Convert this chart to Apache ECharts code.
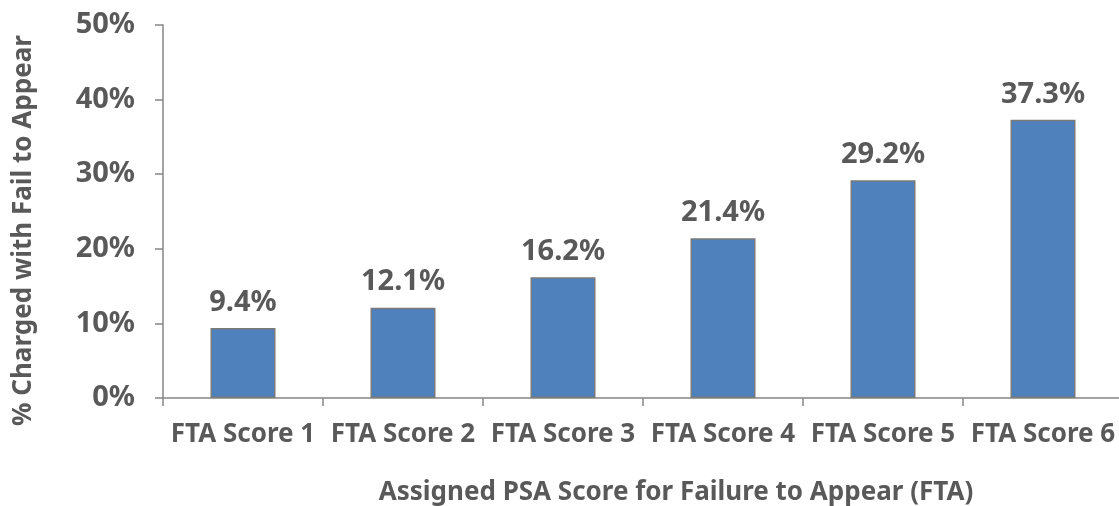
<!DOCTYPE html>
<html>
<head>
<meta charset="utf-8">
<script src="https://cdn.jsdelivr.net/npm/echarts@6/dist/echarts.min.js"></script>
<style>
html,body{margin:0;padding:0;background:#fff;}
#chart{width:1119px;height:506px;}
</style>
</head>
<body>
<div id="chart"></div>
<script>
const categories = ["FTA Score 1","FTA Score 2","FTA Score 3","FTA Score 4","FTA Score 5","FTA Score 6"];
const values = [9.4, 12.1, 16.2, 21.4, 29.2, 37.3];
const yTicks = [0, 10, 20, 30, 40, 50];
const xTitle = "Assigned PSA Score for Failure to Appear (FTA)";
const yTitle = "% Charged with Fail to Appear";

const FONT = "'Noto Sans', sans-serif";
const TXT = "#595959";
const AX = "#868686";

const chart = echarts.init(document.getElementById('chart'), null, {renderer:'canvas'});
chart.setOption({
  animation:false,
  backgroundColor:'#ffffff',
  grid:{left:163, top:25, bottom:108, right:-4, containLabel:false, outerBoundsMode:'none'},
  xAxis:{
    type:'category',
    data:categories,
    name:xTitle,
    nameLocation:'middle',
    nameGap:82,
    nameTextStyle:{color:TXT, fontFamily:FONT, fontWeight:'bold', fontSize:26, padding:[0,0,0,66]},
    axisLine:{show:true, lineStyle:{color:AX, width:1.5}},
    axisTick:{show:true, length:8, lineStyle:{color:AX, width:1.5}, alignWithLabel:false},
    axisLabel:{color:TXT, fontFamily:FONT, fontWeight:'bold', fontSize:26, margin:24, interval:0}
  },
  yAxis:{
    type:'value',
    min:yTicks[0], max:yTicks[yTicks.length-1], interval:10,
    name:yTitle,
    nameLocation:'middle',
    nameGap:126,
    nameRotate:90,
    nameTextStyle:{color:TXT, fontFamily:FONT, fontWeight:'bold', fontSize:26, padding:[0,0,0,-38]},
    axisLine:{show:true, lineStyle:{color:AX, width:1.5}},
    axisTick:{show:true, length:8, lineStyle:{color:AX, width:1.5}},
    splitLine:{show:false},
    axisLabel:{color:TXT, fontFamily:FONT, fontWeight:'bold', fontSize:29, margin:28, formatter:'{value}%'}
  },
  series:[{
    type:'bar',
    data:values,
    barWidth:65,
    itemStyle:{color:'#4f81bd', borderColor:'#7a7a7a', borderWidth:1.5},
    label:{show:true, position:'top', distance:11, color:TXT, fontFamily:FONT, fontWeight:'bold', fontSize:29,
      formatter:p=>p.value.toFixed(1)+'%'}
  }]
});
</script>
</body>
</html>
